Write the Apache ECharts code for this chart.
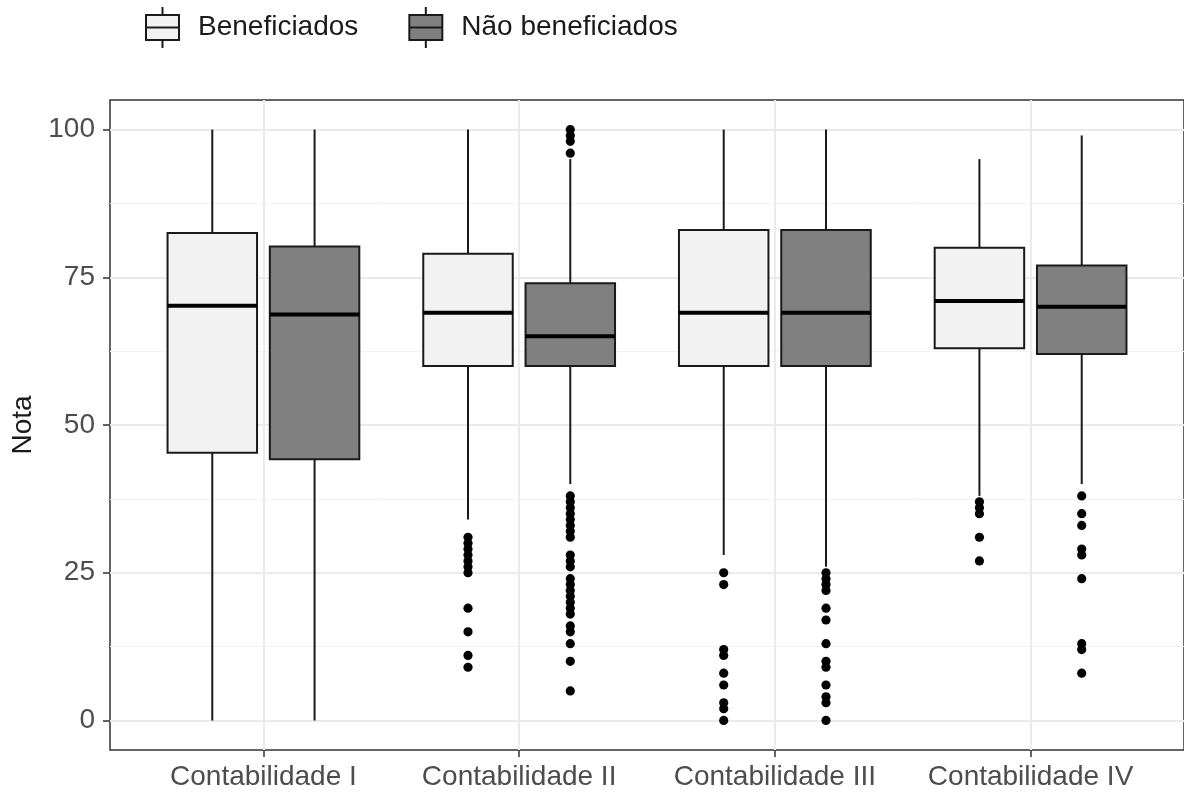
<!DOCTYPE html>
<html><head><meta charset="utf-8">
<script src="https://cdn.jsdelivr.net/npm/echarts@6/dist/echarts.min.js"></script>
<style>html,body{margin:0;padding:0;background:#fff}#chart{width:1184px;height:792px}</style>
</head><body><div id="chart"></div>
<script>
// ---- data ----
const categories = ['Contabilidade I', 'Contabilidade II', 'Contabilidade III', 'Contabilidade IV'];
const seriesNames = ['Beneficiados', 'Não beneficiados'];
// [lower whisker, Q1, median, Q3, upper whisker]
const boxBeneficiados = [
  [0, 45.3, 70.2, 82.5, 100],
  [34, 60, 69, 79, 100],
  [28, 60, 69, 83, 100],
  [38, 63, 71, 80, 95]
];
const boxNaoBeneficiados = [
  [0, 44.2, 68.7, 80.2, 100],
  [40, 60, 65, 74, 95],
  [26, 60, 69, 83, 100],
  [40, 62, 70, 77, 99]
];
const outBeneficiados = [
  [],
  [31, 30, 29, 28, 27, 26, 25, 19, 15, 11, 9],
  [25, 23, 12, 11, 8, 6, 3, 2, 0],
  [37, 36, 35, 31, 27]
];
const outNaoBeneficiados = [
  [],
  [100, 99, 98, 96, 38, 37, 36, 35, 34, 33, 32, 31, 28, 27, 26, 24, 23, 22, 21, 20, 19, 18, 16, 15, 13, 10, 5],
  [25, 24, 23, 22, 19, 17, 13, 10, 9, 6, 4, 3, 0],
  [38, 35, 33, 29, 28, 24, 13, 12, 8]
];
const yTicks = [0, 25, 50, 75, 100];
const yMinorTicks = [12.5, 37.5, 62.5, 87.5];

// ---- style constants ----
const FONT = "'Liberation Sans', Arial, sans-serif";
const FS = 28;
const DODGE = 0.2;
const BOX_W = 0.35;
const fills = ['#f2f2f2', '#808080'];
const sides = [-1, 1];
const INK = '#1a1a1a';

const xTickVals = categories.map((c, i) => i + 1);

function boxData(arr) {
  return arr.map((b, i) => [i + 1].concat(b));
}
function outData(arr) {
  const out = [];
  arr.forEach((vals, i) => vals.forEach(v => out.push([i + 1, v])));
  return out;
}

function boxRender(side, fill) {
  return function (params, api) {
    const xc = api.value(0);
    const unit = api.size([1, 0])[0];
    const cx = api.coord([xc, 0])[0] + side * DODGE * unit;
    const hw = BOX_W * unit / 2;
    const y = k => api.coord([xc, api.value(k)])[1];
    const yLo = y(1), yQ1 = y(2), yMed = y(3), yQ3 = y(4), yHi = y(5);
    return {
      type: 'group',
      children: [
        { type: 'line', shape: { x1: cx, y1: yHi, x2: cx, y2: yQ3 }, style: { stroke: INK, lineWidth: 2 } },
        { type: 'line', shape: { x1: cx, y1: yQ1, x2: cx, y2: yLo }, style: { stroke: INK, lineWidth: 2 } },
        { type: 'rect', shape: { x: cx - hw, y: yQ3, width: 2 * hw, height: yQ1 - yQ3 }, style: { fill: fill, stroke: INK, lineWidth: 2 } },
        { type: 'line', shape: { x1: cx - hw, y1: yMed, x2: cx + hw, y2: yMed }, style: { stroke: '#000', lineWidth: 4 } }
      ]
    };
  };
}
function outRender(side) {
  return function (params, api) {
    const xc = api.value(0);
    const unit = api.size([1, 0])[0];
    const p = api.coord([xc, api.value(1)]);
    return { type: 'circle', shape: { cx: p[0] + side * DODGE * unit, cy: p[1], r: 4.6 }, style: { fill: '#000' } };
  };
}

const iconPath = 'path://M16.5,0L16.5,8M0,8L33,8L33,33L0,33ZM0,20.5L33,20.5M16.5,33L16.5,41';

const boxes = [boxBeneficiados, boxNaoBeneficiados];
const outs = [outBeneficiados, outNaoBeneficiados];
const series = [];
seriesNames.forEach((name, s) => {
  series.push({
    name: name, type: 'custom', renderItem: boxRender(sides[s], fills[s]),
    itemStyle: { color: fills[s] },
    encode: { x: 0, y: [1, 2, 3, 4, 5] },
    data: boxData(boxes[s]), z: 3
  });
});
seriesNames.forEach((name, s) => {
  series.push({
    name: name, type: 'custom', renderItem: outRender(sides[s]),
    itemStyle: { color: fills[s] },
    encode: { x: 0, y: 1 },
    data: outData(outs[s]), z: 4
  });
});

const chart = echarts.init(document.getElementById('chart'));
chart.setOption({
  animation: false,
  backgroundColor: '#fff',
  textStyle: { fontFamily: FONT },
  legend: {
    left: 145, top: 6, orient: 'horizontal', padding: 0,
    itemWidth: 33, itemHeight: 41, itemGap: 50,
    selectedMode: false,
    data: seriesNames.map((n, s) => ({
      name: n, icon: iconPath,
      itemStyle: { color: fills[s], borderColor: INK, borderWidth: 2 }
    })),
    textStyle: { fontSize: FS, color: INK, fontFamily: FONT, padding: [0, 0, 0, 14] }
  },
  grid: {
    left: 110, right: -4, top: 100, bottom: 42,
    show: true, borderColor: '#333', borderWidth: 1.5, backgroundColor: 'transparent'
  },
  xAxis: {
    type: 'value', min: 0.4, max: 4.6,
    axisLine: { show: false, onZero: false },
    axisTick: { show: true, customValues: xTickVals, length: 7, lineStyle: { color: '#333', width: 1.5 } },
    axisLabel: { customValues: xTickVals, formatter: v => categories[Math.round(v) - 1], fontSize: FS, color: '#4d4d4d', fontFamily: FONT, margin: 13 },
    splitLine: { show: true, lineStyle: { color: '#ebebeb', width: 2 } }
  },
  yAxis: [
    {
      type: 'value', min: -5, max: 105,
      name: 'Nota', nameLocation: 'middle', nameGap: 70,
      nameTextStyle: { fontSize: FS, color: INK, fontFamily: FONT },
      axisLine: { show: false, onZero: false },
      axisTick: { show: true, customValues: yTicks, length: 7, lineStyle: { color: '#333', width: 1.5 } },
      axisLabel: { customValues: yTicks, fontSize: FS, color: '#4d4d4d', fontFamily: FONT, margin: 15 },
      splitLine: { show: true, lineStyle: { color: '#ebebeb', width: 2 } }
    },
    {
      type: 'value', min: -5, max: 105, position: 'left',
      axisLine: { show: false, onZero: false },
      axisTick: { show: false, customValues: yMinorTicks },
      axisLabel: { show: false },
      splitLine: { show: true, lineStyle: { color: '#f3f3f3', width: 1 } }
    }
  ],
  series: series
});
</script>
</body></html>
